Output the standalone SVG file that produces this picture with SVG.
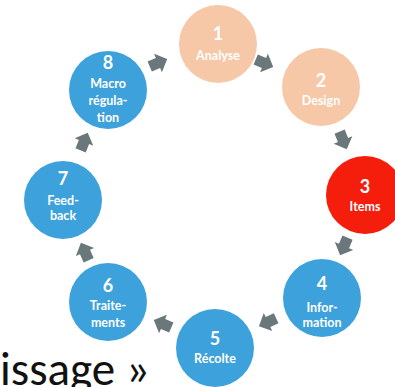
<svg xmlns="http://www.w3.org/2000/svg" width="395" height="387" viewBox="0 0 395 387">
  <style>
    .peach { fill: #f6c8a8; }
    .red { fill: #f51d0c; }
    .blue { fill: #3da2dc; }
    .num { font-family: Lato, "Liberation Sans", sans-serif; font-weight: 700; font-size: 18px; fill: #ffffff; text-anchor: middle; }
    .lbl { font-family: Lato, "Liberation Sans", sans-serif; font-weight: 700; font-size: 12.5px; fill: #ffffff; text-anchor: middle; }
    .arrow { fill: #6a777b; }
    .caption { font-family: Carlito, Lato, "Liberation Sans", sans-serif; font-size: 47px; fill: #111111; }
  </style>
  <defs>
    <!-- block arrow pointing along +x, centred on the origin -->
    <polygon id="blockArrow" points="-9,-5.5 0,-5.5 0,-10 10,0 0,10 0,5.5 -9,5.5"/>
  </defs>
  <rect width="395" height="387" fill="#ffffff"/>

  <g id="connectors">
    <use href="#blockArrow" class="arrow" transform="translate(264,63) rotate(23)"/>
    <use href="#blockArrow" class="arrow" transform="translate(343,140) rotate(68)"/>
    <use href="#blockArrow" class="arrow" transform="translate(344,246) rotate(113)"/>
    <use href="#blockArrow" class="arrow" transform="translate(268,322) rotate(155)"/>
    <use href="#blockArrow" class="arrow" transform="translate(163,324) rotate(203)"/>
    <use href="#blockArrow" class="arrow" transform="translate(85,252) rotate(246)"/>
    <use href="#blockArrow" class="arrow" transform="translate(84,142) rotate(292)"/>
    <use href="#blockArrow" class="arrow" transform="translate(158,63) rotate(337)"/>
  </g>

  <g id="node1">
    <circle class="peach" cx="218" cy="44" r="39"/>
    <text class="num" x="218" y="40">1</text>
    <text class="lbl" x="218" y="60">Analyse</text>
  </g>
  <g id="node2">
    <circle class="peach" cx="321" cy="87" r="39"/>
    <text class="num" x="321" y="87">2</text>
    <text class="lbl" x="321" y="105">Design</text>
  </g>
  <g id="node3">
    <circle class="red" cx="365" cy="195" r="39"/>
    <text class="num" x="365" y="193">3</text>
    <text class="lbl" x="365" y="211">Items</text>
  </g>
  <g id="node4">
    <circle class="blue" cx="322" cy="298" r="39"/>
    <text class="num" x="322" y="290">4</text>
    <text class="lbl" x="322" y="312">Infor-</text>
    <text class="lbl" x="322" y="327">mation</text>
  </g>
  <g id="node5">
    <circle class="blue" cx="215" cy="348" r="39"/>
    <text class="num" x="215" y="345">5</text>
    <text class="lbl" x="215" y="363">Récolte</text>
  </g>
  <g id="node6">
    <circle class="blue" cx="108" cy="302" r="39"/>
    <text class="num" x="108" y="292">6</text>
    <text class="lbl" x="108" y="310">Traite-</text>
    <text class="lbl" x="108" y="327">ments</text>
  </g>
  <g id="node7">
    <circle class="blue" cx="63" cy="200" r="39"/>
    <text class="num" x="63" y="185">7</text>
    <text class="lbl" x="63" y="205">Feed-</text>
    <text class="lbl" x="63" y="220">back</text>
  </g>
  <g id="node8">
    <circle class="blue" cx="108" cy="90" r="39"/>
    <text class="num" x="108" y="69">8</text>
    <text class="lbl" x="108" y="88">Macro</text>
    <text class="lbl" x="108" y="105">régula-</text>
    <text class="lbl" x="108" y="122">tion</text>
  </g>

  <text class="caption" x="0" y="385">issage »</text>
</svg>
